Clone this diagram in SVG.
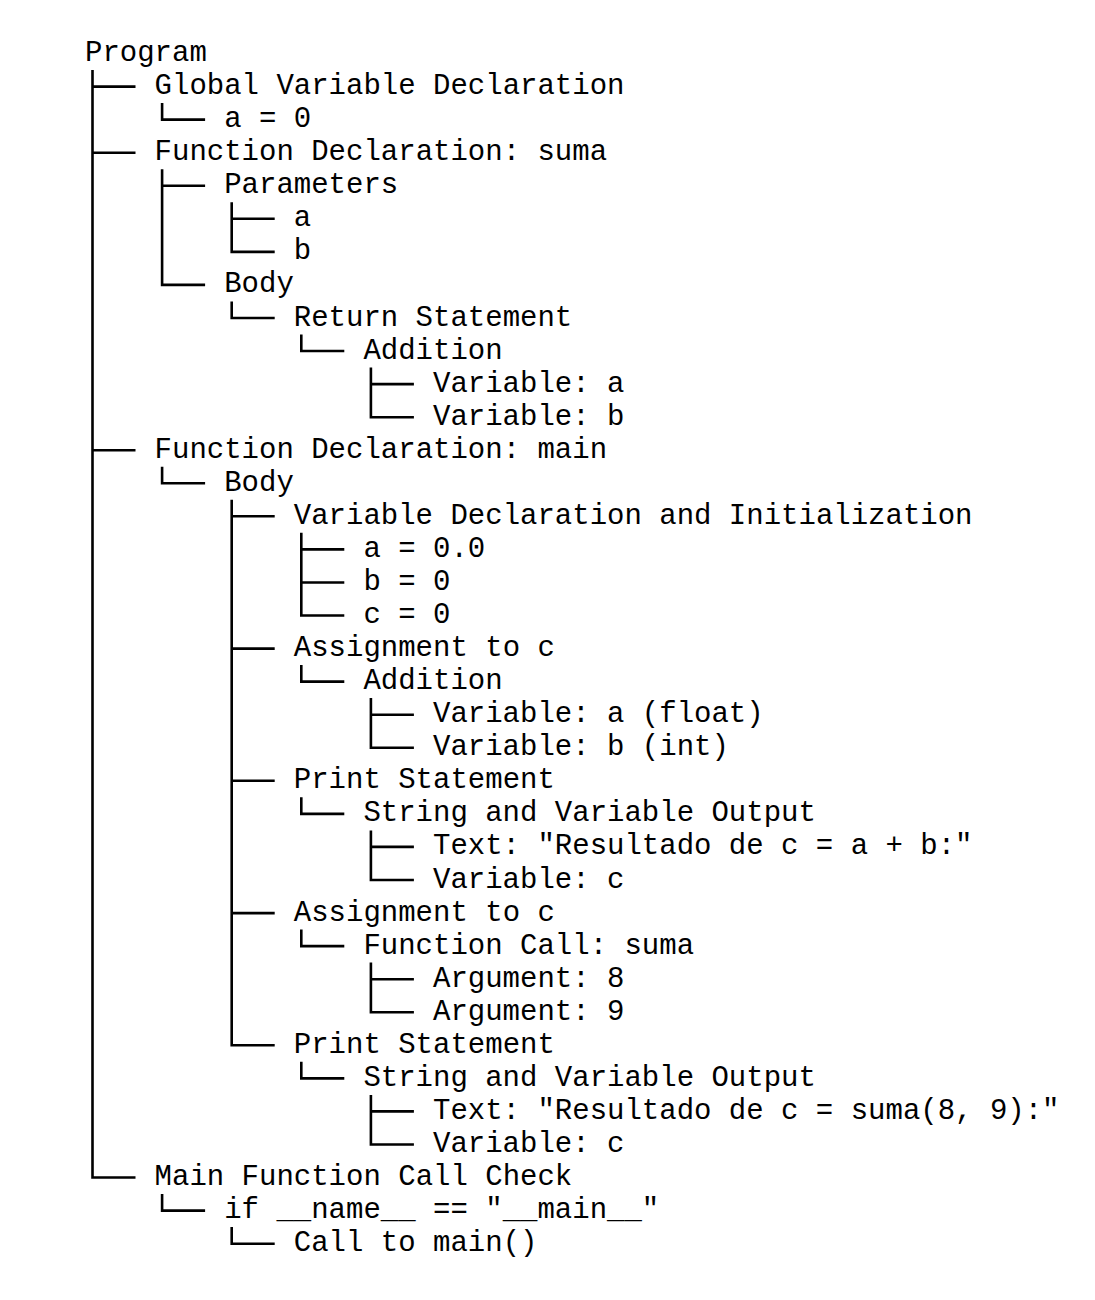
<svg xmlns="http://www.w3.org/2000/svg" width="1095" height="1300" viewBox="0 0 1095 1300">
<style>
text{font-family:"Liberation Mono","Courier New",monospace;font-size:29px;fill:#000}
.c{fill:none;stroke:#000;stroke-width:2.6}
</style>
<rect width="1095" height="1300" fill="#fff"/>
<g id="connectors" class="c">
<path d="M92.5 70V1177.5H135.5M92.5 86.6H135.5M92.5 152.7H135.5M92.5 450.2H135.5"/>
<path d="M162.1 103.1V119.6H205.1"/>
<path d="M162.1 169.2V284.9H205.1M162.1 185.7H205.1"/>
<path d="M231.7 202.2V251.9H274.7M231.7 218.8H274.7"/>
<path d="M231.7 301.4V318H274.7"/>
<path d="M301.3 334.5V351H344.3"/>
<path d="M370.9 367.5V417.2H413.9M370.9 384.1H413.9"/>
<path d="M162.1 466.7V483.3H205.1"/>
<path d="M231.7 499.8V1045.3H274.7M231.7 516.3H274.7M231.7 648.6H274.7M231.7 780.8H274.7M231.7 913.1H274.7"/>
<path d="M301.3 532.8V615.5H344.3M301.3 549.4H344.3M301.3 582.5H344.3"/>
<path d="M301.3 665.1V681.6H344.3"/>
<path d="M370.9 698.1V747.8H413.9M370.9 714.7H413.9"/>
<path d="M301.3 797.3V813.9H344.3"/>
<path d="M370.9 830.4V880H413.9M370.9 846.9H413.9"/>
<path d="M301.3 929.6V946.1H344.3"/>
<path d="M370.9 962.6V1012.2H413.9M370.9 979.2H413.9"/>
<path d="M301.3 1061.8V1078.4H344.3"/>
<path d="M370.9 1094.9V1144.5H413.9M370.9 1111.4H413.9"/>
<path d="M162.1 1194V1210.6H205.1"/>
<path d="M231.7 1227.1V1243.7H274.7"/>
</g>
<g id="n0"><text x="85" y="61">Program</text></g>
<g id="n1"><text x="154.6" y="94.1">Global Variable Declaration</text></g>
<g id="n2"><text x="224.2" y="127.1">a = 0</text></g>
<g id="n3"><text x="154.6" y="160.2">Function Declaration: suma</text></g>
<g id="n4"><text x="224.2" y="193.2">Parameters</text></g>
<g id="n5"><text x="293.8" y="226.3">a</text></g>
<g id="n6"><text x="293.8" y="259.4">b</text></g>
<g id="n7"><text x="224.2" y="292.4">Body</text></g>
<g id="n8"><text x="293.8" y="325.5">Return Statement</text></g>
<g id="n9"><text x="363.4" y="358.5">Addition</text></g>
<g id="n10"><text x="433" y="391.6">Variable: a</text></g>
<g id="n11"><text x="433" y="424.7">Variable: b</text></g>
<g id="n12"><text x="154.6" y="457.7">Function Declaration: main</text></g>
<g id="n13"><text x="224.2" y="490.8">Body</text></g>
<g id="n14"><text x="293.8" y="523.8">Variable Declaration and Initialization</text></g>
<g id="n15"><text x="363.4" y="556.9">a = 0.0</text></g>
<g id="n16"><text x="363.4" y="590">b = 0</text></g>
<g id="n17"><text x="363.4" y="623">c = 0</text></g>
<g id="n18"><text x="293.8" y="656.1">Assignment to c</text></g>
<g id="n19"><text x="363.4" y="689.1">Addition</text></g>
<g id="n20"><text x="433" y="722.2">Variable: a (float)</text></g>
<g id="n21"><text x="433" y="755.3">Variable: b (int)</text></g>
<g id="n22"><text x="293.8" y="788.3">Print Statement</text></g>
<g id="n23"><text x="363.4" y="821.4">String and Variable Output</text></g>
<g id="n24"><text x="433" y="854.4">Text: "Resultado de c = a + b:"</text></g>
<g id="n25"><text x="433" y="887.5">Variable: c</text></g>
<g id="n26"><text x="293.8" y="920.6">Assignment to c</text></g>
<g id="n27"><text x="363.4" y="953.6">Function Call: suma</text></g>
<g id="n28"><text x="433" y="986.7">Argument: 8</text></g>
<g id="n29"><text x="433" y="1019.7">Argument: 9</text></g>
<g id="n30"><text x="293.8" y="1052.8">Print Statement</text></g>
<g id="n31"><text x="363.4" y="1085.9">String and Variable Output</text></g>
<g id="n32"><text x="433" y="1118.9">Text: "Resultado de c = suma(8, 9):"</text></g>
<g id="n33"><text x="433" y="1152">Variable: c</text></g>
<g id="n34"><text x="154.6" y="1185">Main Function Call Check</text></g>
<g id="n35"><text x="224.2" y="1218.1">if __name__ == "__main__"</text></g>
<g id="n36"><text x="293.8" y="1251.2">Call to main()</text></g>
</svg>
